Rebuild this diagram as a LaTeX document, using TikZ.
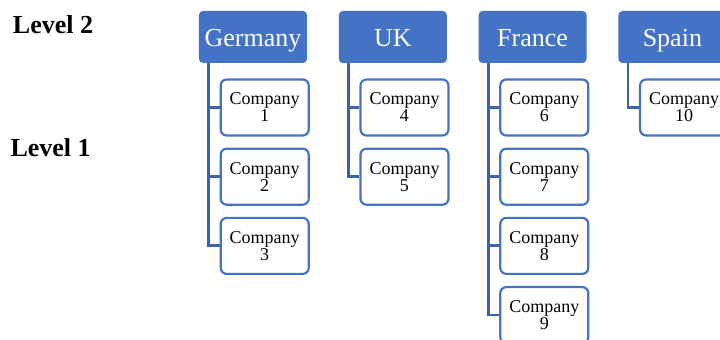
\documentclass[tikz,border=0pt]{standalone}
\usepackage{fontspec}
\setmainfont{Liberation Serif}
\usetikzlibrary{%
  positioning,
  calc,
}
\definecolor{officeblue}{HTML}{4472C4}
\definecolor{linkblue}{HTML}{3B62AC}

\begin{document}
\begin{tikzpicture}[%
           x=1pt, y=1pt,
           node distance=5.5pt and 15.5pt,
           country/.style={
             % The shape:
             rectangle,
             rounded corners=2pt,
             % The size:
             minimum width=54pt,
             minimum height=26pt,
             inner sep=0pt,
             text height=11pt,
             text depth=1pt,
             % The filling:
             fill=officeblue,
             text=white,
             font=\fontsize{13}{13}\selectfont,
           },
           company/.style={
             rectangle,
             rounded corners=3pt,
             minimum width=44pt,
             minimum height=28pt,
             inner sep=0pt,
             align=center,
             % The border:
             line width=1.1pt,
             draw=officeblue,
             fill=white,
             font=\fontsize{9}{8.5}\selectfont,
           },
           level/.style={
             font=\fontsize{13}{13}\selectfont\bfseries,
           },
           branch/.style={
             line width=1.4pt,
             color=linkblue,
           }]

         \useasboundingbox (0,0) rectangle (360,-170);

         \node[level] (lvltwo) at (26.5,-12.5) {Level 2};
         \node[level] (lvlone) at (25.3,-74) {Level 1};

         \node[country] (germany) at (126.5,-18.5) {Germany};
         \node[country] (uk) [right=of germany] {UK};
         \node[country] (france) [right=of uk] {France};
         \node[country] (spain) [right=of france] {Spain};

         \node[company] (c1) [below right=7.5pt and 10.5pt of germany.south west] {Company\\1};
         \node[company] (c2) [below=of c1] {Company\\2};
         \node[company] (c3) [below=of c2] {Company\\3};

         \node[company] (c4) [below right=7.5pt and 10.5pt of uk.south west] {Company\\4};
         \node[company] (c5) [below=of c4] {Company\\5};

         \node[company] (c6) [below right=7.5pt and 10.5pt of france.south west] {Company\\6};
         \node[company] (c7) [below=of c6] {Company\\7};
         \node[company] (c8) [below=of c7] {Company\\8};
         \node[company] (c9) [below=of c8] {Company\\9};

         \node[company] (c10) [below right=7.5pt and 10.5pt of spain.south west] {Company\\10};

         \foreach \head/\kids in {germany/{c1,c2,c3}, uk/{c4,c5},
                                  france/{c6,c7,c8,c9}, spain/{c10}} {
           \foreach \kid in \kids {
             \draw[branch] ($ (\head.south west) + (5pt, 0) $) |- (\kid.west);
           }
         }

     \end{tikzpicture}
\end{document}
